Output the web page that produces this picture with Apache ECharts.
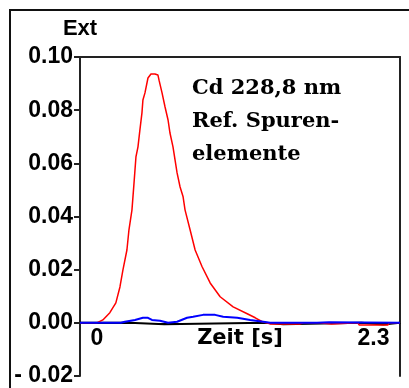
<!DOCTYPE html>
<html>
<head>
<meta charset="utf-8">
<script src="https://cdn.jsdelivr.net/npm/echarts@6/dist/echarts.min.js"></script>
<style>
  html, body { margin: 0; padding: 0; background: #fff; }
  #chart-wrapper { width: 409px; height: 388px; }
</style>
</head>
<body>
<div id="chart-wrapper"></div>
<script>
// readings: [time s, extinction]
const redSignal = [
  [-0.14, 0], [0.0, 0], [0.05, 0.0011], [0.108, 0.0038], [0.158, 0.0075],
  [0.192, 0.0135], [0.217, 0.0199], [0.25, 0.0274], [0.267, 0.035],
  [0.292, 0.0425], [0.308, 0.052], [0.325, 0.0624], [0.342, 0.0662],
  [0.358, 0.0726], [0.375, 0.079], [0.383, 0.0838], [0.4, 0.0865],
  [0.425, 0.0921], [0.45, 0.0936], [0.483, 0.0936], [0.508, 0.0932],
  [0.517, 0.0913], [0.542, 0.0865], [0.567, 0.0812], [0.592, 0.0763],
  [0.608, 0.0714], [0.633, 0.0662], [0.65, 0.0613], [0.667, 0.0564],
  [0.692, 0.0511], [0.717, 0.0474], [0.733, 0.0425], [0.775, 0.035],
  [0.817, 0.0274], [0.875, 0.0211], [0.942, 0.015], [1.025, 0.0098],
  [1.133, 0.006], [1.25, 0.0034], [1.317, 0.0019], [1.375, 0.0004],
  [1.44, -0.0004], [1.69, -0.0004], [1.72, 0], [1.85, 0], [1.86, -0.0004],
  [1.95, -0.0004], [1.96, 0], [2.17, 0], [2.18, -0.0008], [2.42, -0.0008],
  [2.43, 0], [2.52, 0]
];
const blueBackground = [
  [-0.14, 0], [0.2, 0], [0.233, 0.0004], [0.317, 0.0011], [0.383, 0.0019],
  [0.425, 0.0019], [0.458, 0.0011], [0.525, 0.0008], [0.592, 0],
  [0.667, 0.0004], [0.75, 0.0019], [0.8, 0.0023], [0.883, 0.003],
  [0.983, 0.003], [1.05, 0.0023], [1.167, 0.0019], [1.275, 0.0011],
  [1.383, 0.0004], [1.44, 0], [1.83, 0], [1.84, 0.0002], [1.93, 0.0002],
  [1.94, 0], [2.52, 0]
];
const blackBaseline = [
  [-0.14, 0], [0.27, 0], [0.28, -0.0005], [0.56, -0.0005], [0.57, 0],
  [1.4, 0], [1.41, -0.0005], [1.55, -0.0005], [1.56, 0], [2.2, 0],
  [2.21, -0.0006], [2.38, -0.0006], [2.39, 0], [2.52, 0]
];
const xTickValues = [0, 2.3];
const noteLines = ['Cd 228,8 nm', 'Ref. Spuren-', 'elemente'];

const chartDom = document.getElementById('chart-wrapper');
const chart = echarts.init(chartDom);

const labelFont = {
  fontFamily: 'Liberation Sans',
  fontWeight: 'bold',
  fontSize: 23,
  color: '#000'
};

const gridTop = 57;
const gridBottom = 12;
const yMin = -0.02;
const yMax = 0.1;
// move the time axis up from the grid bottom to the zero line
const plotHeight = 388 - gridTop - gridBottom;
const zeroShift = -plotHeight * (0 - yMin) / (yMax - yMin);

const option = {
  animation: false,
  backgroundColor: '#fff',
  grid: { left: 80, top: gridTop, right: 9, bottom: gridBottom, outerBoundsMode: 'none', containLabel: false },
  xAxis: [
    {
      type: 'value',
      min: -0.14,
      max: 2.52,
      offset: zeroShift,
      axisLine: { show: true, onZero: false, lineStyle: { color: '#000', width: 1 } },
      axisTick: { show: false },
      splitLine: { show: false },
      axisLabel: {
        ...labelFont,
        margin: 4,
        customValues: xTickValues,
        formatter: (v) => String(v)
      },
      name: 'Zeit [s]',
      nameLocation: 'middle',
      nameGap: 5,
      nameMoveOverlap: false,
      nameTextStyle: { ...labelFont, fontFamily: 'DejaVu Sans', fontSize: 21 }
    },
    {
      type: 'value',
      position: 'top',
      min: -0.14,
      max: 2.52,
      axisLine: { show: true, onZero: false, lineStyle: { color: '#222', width: 2 } },
      axisTick: { show: false },
      axisLabel: { show: false },
      splitLine: { show: false }
    }
  ],
  yAxis: [
    {
      type: 'value',
      min: yMin,
      max: yMax,
      interval: 0.02,
      axisLine: { show: true, onZero: false, lineStyle: { color: '#222', width: 2 } },
      axisTick: { show: true, length: 6, lineStyle: { color: '#222', width: 2 } },
      splitLine: { show: false },
      axisLabel: {
        ...labelFont,
        margin: 7,
        formatter: (v) => (v < 0 ? '- ' + Math.abs(v).toFixed(2) : v.toFixed(2))
      },
      name: 'Ext',
      nameLocation: 'end',
      nameGap: 17,
      nameTextStyle: { ...labelFont, fontSize: 22, align: 'center' }
    },
    {
      type: 'value',
      position: 'right',
      min: yMin,
      max: yMax,
      interval: 0.02,
      axisLine: { show: true, onZero: false, lineStyle: { color: '#222', width: 2 } },
      axisTick: { show: false },
      axisLabel: { show: false },
      splitLine: { show: false }
    }
  ],
  series: [
    {
      type: 'line',
      data: blackBaseline,
      showSymbol: false,
      lineStyle: { color: '#000', width: 2 },
      z: 2
    },
    {
      type: 'line',
      data: redSignal,
      showSymbol: false,
      lineStyle: { color: '#ff0000', width: 1.5 },
      z: 3
    },
    {
      type: 'line',
      data: blueBackground,
      showSymbol: false,
      lineStyle: { color: '#0000ff', width: 2 },
      z: 4
    }
  ],
  graphic: [
    {
      type: 'polyline',
      shape: { points: [[10, 388], [10, 10], [409, 10]] },
      style: { stroke: '#111', lineWidth: 2, fill: null }
    },
    {
      type: 'text',
      left: 192,
      top: 72,
      style: {
        text: noteLines.join('\n'),
        fontFamily: 'DejaVu Serif',
        fontWeight: 'bold',
        fontSize: 21,
        lineHeight: 33,
        fill: '#000'
      }
    }
  ]
};

chart.setOption(option);
</script>
</body>
</html>
